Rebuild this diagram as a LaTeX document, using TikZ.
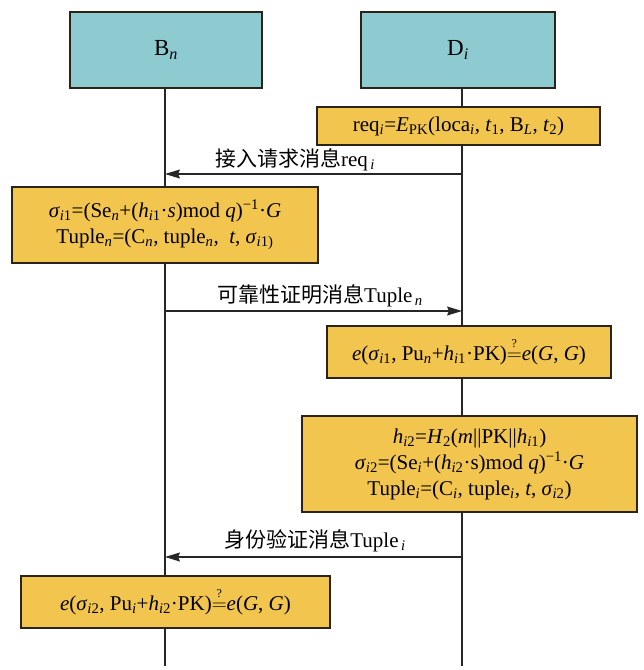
\documentclass[tikz,border=0pt]{standalone}
\usepackage{fontspec}
\setmainfont{Liberation Serif}
\newfontfamily\cjk{Noto Sans CJK SC}
\usetikzlibrary{arrows.meta}
\definecolor{headblue}{HTML}{8DCBD1}
\definecolor{stepgold}{HTML}{F2C54F}
\definecolor{edgedark}{HTML}{2A2418}
\newcommand\sub[1]{\textsubscript{#1}}
\newcommand\sups[1]{\textsuperscript{#1}}
\newcommand\qeq{\ensuremath{\stackrel{\raisebox{0.35ex}{\fontsize{12}{12}\selectfont ?}}{=}}}
\newcommand\txtsize{\fontsize{21}{26}\selectfont}
\begin{document}
\begin{tikzpicture}[x=1pt,y=-1pt,
  head/.style={draw=edgedark, fill=headblue, line width=1.2pt, minimum height=76pt, font=\fontsize{23}{28}\selectfont, inner sep=0pt},
  calc/.style={draw=edgedark, fill=stepgold, line width=1.2pt, font=\txtsize, align=center, inner sep=0pt},
  life/.style={line width=1.1pt, draw=black!85},
  msg/.style={line width=1.1pt, draw=black!85, -{Stealth[length=15pt,width=9pt,inset=2pt]}},
  lbl/.style={font=\txtsize, inner sep=0pt}]
\useasboundingbox (0,0) rectangle (644,670);
\fill[white] (0,0) rectangle (644,670);

\node[head, minimum width=192pt] (Bn) at (166,50) {B\sub{\textit{n}}};
\node[head, minimum width=194pt] (Di) at (458,50) {D\sub{\textit{i}}};

\coordinate (btop) at (165,88);
\coordinate (bbot) at (165,666);
\coordinate (dtop) at (462,88);
\coordinate (dbot) at (462,666);
\draw[life] (btop) -- (bbot);
\draw[life] (dtop) -- (dbot);

\node[calc, minimum width=283pt, minimum height=38pt] (req) at (458.5,126)
  {req\sub{\textit{i}}=\textit{E}\sub{PK}(loca\sub{\textit{i}}, \textit{t}\sub{1}, B\sub{\textit{L}}, \textit{t}\sub{2})};

\coordinate (m1d) at (462,174);
\coordinate (m1b) at (165,174);
\draw[msg] (m1d) -- (m1b);
\node[lbl] (l1) at (295,160) {{\cjk 接入请求消息}req\sub{\,\textit{i}}};

\node[calc, minimum width=306pt, minimum height=76pt] (sig1) at (165,225)
  {\textit{σ}\sub{\textit{i}1}=(Se\sub{\textit{n}}+(\textit{h}\sub{\textit{i}1}·\textit{s})mod \textit{q})\sups{−1}·\textit{G}\\
   Tuple\sub{\textit{n}}=(C\sub{\textit{n}}, tuple\sub{\textit{n}},\ \ \textit{t}, \textit{σ}\sub{\textit{i}1)}};

\coordinate (m2b) at (165,311);
\coordinate (m2d) at (462,311);
\draw[msg] (m2b) -- (m2d);
\node[lbl] (l2) at (320,296) {{\cjk 可靠性证明消息}Tuple\sub{\,\textit{n}}};

\node[calc, minimum width=284pt, minimum height=52pt] (ver1) at (469,352)
  {\textit{e}(\textit{σ}\sub{\textit{i}1}, Pu\sub{\textit{n}}+\textit{h}\sub{\textit{i}1}·PK)\qeq\textit{e}(\textit{G}, \textit{G})};

\node[calc, minimum width=335pt, minimum height=96pt] (box3) at (469.5,464)
  {\textit{h}\sub{\textit{i}2}=\textit{H}\sub{2}(\textit{m}||PK||\textit{h}\sub{\textit{i}1})\\
   \textit{σ}\sub{\textit{i}2}=(Se\sub{\textit{i}}+(\textit{h}\sub{\textit{i}2}·s)mod \textit{q})\sups{−1}·\textit{G}\\
   Tuple\sub{\textit{i}}=(C\sub{\textit{i}}, tuple\sub{\textit{i}}, \textit{t}, \textit{σ}\sub{\textit{i}2})};

\coordinate (m3d) at (462,557);
\coordinate (m3b) at (165,557);
\draw[msg] (m3d) -- (m3b);
\node[lbl] (l3) at (315,541) {{\cjk 身份验证消息}Tuple\sub{\,\textit{i}}};

\node[calc, minimum width=309pt, minimum height=52pt] (box4) at (175.5,602)
  {\textit{e}(\textit{σ}\sub{\textit{i}2}, Pu\sub{\textit{i}}+\textit{h}\sub{\textit{i}2}·PK)\qeq\textit{e}(\textit{G}, \textit{G})};
\end{tikzpicture}
\end{document}
